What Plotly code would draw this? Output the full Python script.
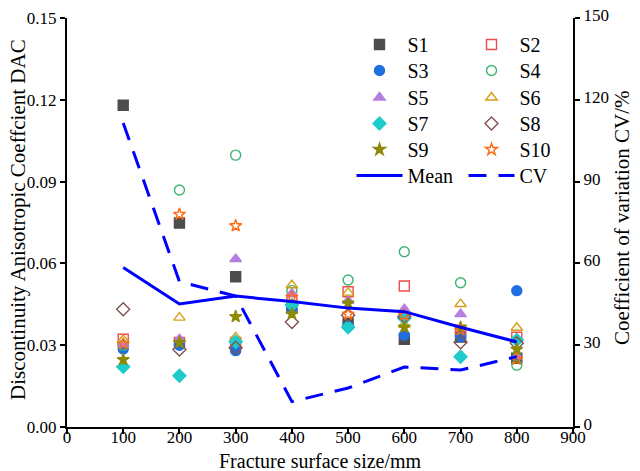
import plotly.graph_objects as go

sizes = [100, 200, 300, 400, 500, 600, 700, 800]

S1 = [0.1180, 0.0748, 0.0551, 0.0435, 0.0380, 0.0322, 0.0330, 0.0252]
S2 = [0.0322, 0.0310, 0.0310, 0.0460, 0.0496, 0.0517, 0.0350, 0.0329]
S3 = [0.0286, 0.0300, 0.0280, 0.0430, 0.0370, 0.0337, 0.0331, 0.0500]
S4 = [0.0300, 0.0869, 0.0997, 0.0500, 0.0539, 0.0643, 0.0529, 0.0227]
S5 = [0.0305, 0.0322, 0.0616, 0.0490, 0.0463, 0.0432, 0.0414, 0.0260]
S6 = [0.0320, 0.0401, 0.0329, 0.0520, 0.0493, 0.0375, 0.0451, 0.0364]
S7 = [0.0221, 0.0188, 0.0313, 0.0447, 0.0366, 0.0399, 0.0258, 0.0319]
S8 = [0.0432, 0.0284, 0.0291, 0.0385, 0.0410, 0.0405, 0.0311, 0.0307]
S9 = [0.0247, 0.0310, 0.0405, 0.0415, 0.0454, 0.0366, 0.0366, 0.0285]
S10 = [0.0304, 0.0780, 0.0738, 0.0476, 0.0414, 0.0410, 0.0356, 0.0248]

mean_vals = [0.0585, 0.0451, 0.0480, 0.0460, 0.0436, 0.0423, 0.0366, 0.0312]
cv_vals = [111.5, 53.3, 48.0, 9.3, 14.3, 22.0, 20.9, 25.8]

series = [
    ("S1", S1, "square", "#4d4d4d", 10),
    ("S2", S2, "square-open", "#f04c4c", 10),
    ("S3", S3, "circle", "#1f6fe0", 10),
    ("S4", S4, "circle-open", "#3cb371", 10),
    ("S5", S5, "triangle-up", "#b57fe0", 10),
    ("S6", S6, "triangle-up-open", "#d59f1a", 10),
    ("S7", S7, "diamond", "#1ecbcb", 10),
    ("S8", S8, "diamond-open", "#80524f", 10),
    ("S9", S9, "star", "#8e8a07", 9),
    ("S10", S10, "star-open", "#ff6a10", 9),
]

FONT = "Liberation Serif, Times New Roman, serif"
fig = go.Figure()

def legend_id(i):
    return "legend%d" % (i + 2)

for i, (name, vals, sym, col, sz) in enumerate(series):
    fig.add_trace(go.Scatter(
        x=sizes, y=vals, mode="markers", name=name, legend=legend_id(i),
        marker=dict(symbol=sym, color=col, size=sz,
                    line=dict(color=col, width=1.4)),
    ))

fig.add_trace(go.Scatter(x=sizes, y=mean_vals, mode="lines", name="Mean",
                         legend=legend_id(10), line=dict(color="#0000ff", width=3)))
fig.add_trace(go.Scatter(x=sizes, y=cv_vals, mode="lines", name="CV",
                         legend=legend_id(11), yaxis="y2",
                         line=dict(color="#0000ff", width=3, dash="18px,12px")))

axis_common = dict(showline=True, linecolor="black", linewidth=2,
                   ticks="outside", tickcolor="black", tickwidth=2, ticklen=5,
                   showgrid=False, zeroline=False, automargin=False,
                   tickfont=dict(family=FONT, size=17, color="black"))

H = 409.0
W = 506.0
row_y = [45, 71, 98, 124, 150, 176]
col_x = [351.5, 463.5]
legends = {}
for i in range(12):
    r, c = divmod(i, 2)
    legends[legend_id(i)] = dict(
        x=(col_x[c] - 67) / W, y=(427 - (row_y[r] - 20)) / H,
        xanchor="left", yanchor="top", bgcolor="rgba(0,0,0,0)",
        itemwidth=46, font=dict(family=FONT, size=20, color="black"))

fig.update_layout(
    width=640, height=471,
    margin=dict(l=67, r=67, t=18, b=44),
    paper_bgcolor="white", plot_bgcolor="white",
    font=dict(family=FONT, color="black"),
    xaxis=dict(range=[0, 900], dtick=100, tick0=0, ticklabelstandoff=-11, **axis_common),
    yaxis=dict(range=[0, 0.15], dtick=0.03, tick0=0, tickformat=".2f", **axis_common),
    yaxis2=dict(range=[0, 150], dtick=30, tick0=0, overlaying="y", side="right",
                ticklabelshift=-3, **axis_common),
    annotations=[
        dict(text="Fracture surface size/mm", xref="paper", yref="paper",
             x=0.5, y=-34 / H, xanchor="center", yanchor="middle",
             showarrow=False, font=dict(family=FONT, size=20, color="black")),
        dict(text="Discontinuity Anisotropic Coeffcient DAC", xref="paper", yref="paper",
             x=(18 - 67) / W, y=(427 - 220) / H, xanchor="center", yanchor="middle",
             textangle=-90, showarrow=False,
             font=dict(family=FONT, size=21, color="black")),
        dict(text="Coefficient of variation CV/%", xref="paper", yref="paper",
             x=(622 - 67) / W, y=(427 - 218) / H, xanchor="center", yanchor="middle",
             textangle=-90, showarrow=False,
             font=dict(family=FONT, size=21, color="black")),
    ],
    **legends,
)

fig.write_html("out.html")
